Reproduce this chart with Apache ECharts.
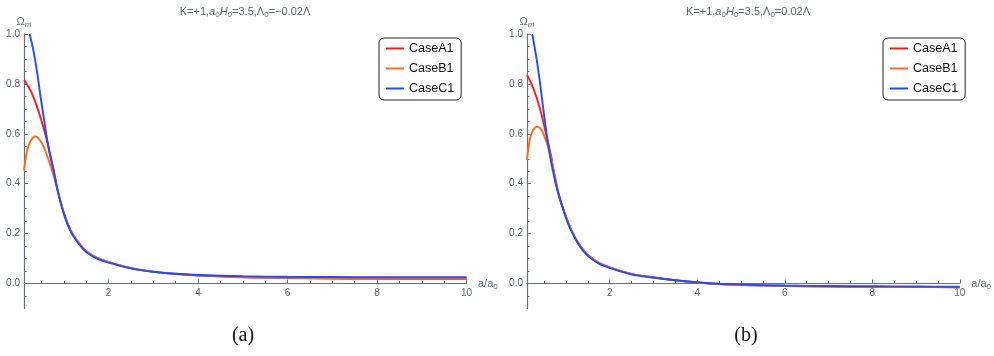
<!DOCTYPE html>
<html>
<head>
<meta charset="utf-8">
<script src="https://cdn.jsdelivr.net/npm/echarts@6/dist/echarts.min.js"></script>
<style>
  html, body { margin: 0; padding: 0; background: #fff; }
  #chart { width: 994px; height: 356px; }
</style>
</head>
<body>
<div id="chart"></div>
<script>
// Omega_m against a/a0, panel (a): Lambda0 = -0.02 Lambda
const aCaseA1X = [0.11, 0.25, 0.40, 0.55, 0.70, 0.772, 0.846, 0.92, 1.0, 1.14, 1.33, 1.52, 1.74, 2.0, 2.5, 3.0, 3.5, 4.0, 5, 6, 7, 8, 9, 10];
const aCaseA1Y = [0.816, 0.776, 0.709, 0.622, 0.515, 0.455, 0.388, 0.333, 0.284, 0.217, 0.164, 0.126, 0.103, 0.086, 0.062, 0.047, 0.038, 0.032, 0.025, 0.022, 0.020, 0.019, 0.018, 0.018];
const aCaseB1X = [0.11, 0.176, 0.25, 0.362, 0.436, 0.548, 0.66, 0.772, 0.846, 0.92, 1.0, 1.14, 1.33, 1.52, 1.74, 2.0, 2.5, 3.0, 3.5, 4.0, 5, 6, 7, 8, 9, 10];
const aCaseB1Y = [0.453, 0.529, 0.569, 0.589, 0.582, 0.549, 0.495, 0.432, 0.384, 0.334, 0.285, 0.218, 0.165, 0.127, 0.104, 0.087, 0.063, 0.048, 0.039, 0.033, 0.026, 0.023, 0.021, 0.020, 0.019, 0.019];
const aCaseC1X = [0.235, 0.325, 0.40, 0.474, 0.548, 0.623, 0.697, 0.772, 0.846, 0.92, 1.0, 1.14, 1.33, 1.52, 1.74, 2.0, 2.5, 3.0, 3.5, 4.0, 5, 6, 7, 8, 9, 10];
const aCaseC1Y = [1.0, 0.93, 0.85, 0.756, 0.669, 0.582, 0.509, 0.452, 0.385, 0.33, 0.28, 0.213, 0.16, 0.123, 0.10, 0.084, 0.061, 0.047, 0.039, 0.034, 0.029, 0.027, 0.026, 0.025, 0.025, 0.025];

// panel (b): Lambda0 = 0.02 Lambda
const bCaseA1X = [0.11, 0.253, 0.402, 0.551, 0.662, 0.70, 0.774, 0.848, 0.967, 1.116, 1.302, 1.488, 1.749, 1.994, 2.49, 2.98, 3.5, 3.98, 4.46, 5, 6, 7, 8, 9, 10];
const bCaseA1Y = [0.836, 0.783, 0.703, 0.595, 0.51, 0.468, 0.40, 0.345, 0.284, 0.217, 0.157, 0.117, 0.083, 0.065, 0.039, 0.025, 0.013, 0.004, -0.002, -0.006, -0.010, -0.012, -0.013, -0.014, -0.015];
const bCaseB1X = [0.11, 0.179, 0.253, 0.342, 0.439, 0.551, 0.662, 0.774, 0.848, 0.967, 1.116, 1.302, 1.488, 1.749, 1.994, 2.49, 2.98, 3.5, 3.98, 4.46, 5, 6, 7, 8, 9, 10];
const bCaseB1Y = [0.495, 0.582, 0.616, 0.629, 0.616, 0.569, 0.502, 0.41, 0.35, 0.284, 0.217, 0.157, 0.117, 0.084, 0.066, 0.039, 0.025, 0.013, 0.004, -0.002, -0.006, -0.010, -0.012, -0.013, -0.014, -0.015];
const bCaseC1X = [0.23, 0.327, 0.402, 0.476, 0.551, 0.625, 0.699, 0.774, 0.818, 0.90, 0.967, 1.116, 1.302, 1.488, 1.749, 1.994, 2.49, 2.98, 3.5, 3.98, 4.46, 5, 6, 7, 8, 9, 10];
const bCaseC1Y = [1.0, 0.903, 0.81, 0.709, 0.609, 0.522, 0.455, 0.395, 0.368, 0.32, 0.28, 0.213, 0.153, 0.113, 0.08, 0.063, 0.037, 0.024, 0.013, 0.005, -0.001, -0.004, -0.008, -0.010, -0.011, -0.012, -0.013];

// axis ticks and labels
const xMajor = [2, 4, 6, 8, 10];
const xMinor = [0.5, 1, 1.5, 2.5, 3, 3.5, 4.5, 5, 5.5, 6.5, 7, 7.5, 8.5, 9, 9.5];
const yMajor = [0, 0.2, 0.4, 0.6, 0.8, 1.0];
const yMinor = [-0.05, 0.05, 0.1, 0.15, 0.25, 0.3, 0.35, 0.45, 0.5, 0.55, 0.65, 0.7, 0.75, 0.85, 0.9, 0.95];
const caseNames = ['CaseA1', 'CaseB1', 'CaseC1'];
const caseColors = ['#ff1a1a', '#ff6a1e', '#1f4cff'];
const panelLabels = ['(a)', '(b)'];
const panelTitles = ['=\u22120.02\u039b', '=0.02\u039b'];

const X_MIN = 0.11, X_MAX = 10, Y_MIN = -0.1, Y_MAX = 1.0;
const axisGray = '#6a7179';
const labelGray = '#5f666e';
const font = 'Liberation Sans, Arial, sans-serif';

const pairs = (xs, ys) => xs.map((x, i) => [x, ys[i]]);
const panels = [
  [pairs(aCaseA1X, aCaseA1Y), pairs(aCaseB1X, aCaseB1Y), pairs(aCaseC1X, aCaseC1Y)],
  [pairs(bCaseA1X, bCaseA1Y), pairs(bCaseB1X, bCaseB1Y), pairs(bCaseC1X, bCaseC1Y)]
];

const gridLefts = [24, 527];
const gridTop = 34;
const gridWidth = 442.5;
const gridHeight = 274.5;
// the horizontal axis sits on y = 0, lifted from the bottom edge of the plot box
const zeroOffset = -(0 - Y_MIN) / (Y_MAX - Y_MIN) * gridHeight;

const grids = [], xAxes = [], yAxes = [], series = [], legends = [], graphics = [];

const subRich = {
  n: { fontSize: 11, color: labelGray, fontFamily: font },
  i: { fontSize: 11, color: labelGray, fontFamily: font, fontStyle: 'italic' },
  s: { fontSize: 8, color: labelGray, fontFamily: font, verticalAlign: 'bottom', padding: [6, 0, 0, 0] }
};

for (let p = 0; p < 2; p++) {
  grids.push({ left: gridLefts[p], top: gridTop, width: gridWidth, height: gridHeight });
  // major x axis
  xAxes.push({
    type: 'value', gridIndex: p, min: X_MIN, max: X_MAX, position: 'bottom', offset: zeroOffset,
    axisLine: { show: true, onZero: false, lineStyle: { color: axisGray, width: 1.2 } },
    axisTick: { show: true, inside: true, length: 4, customValues: xMajor, lineStyle: { color: axisGray } },
    axisLabel: { show: true, customValues: xMajor, margin: 5, fontSize: 10, color: labelGray, fontFamily: font },
    splitLine: { show: false },
    name: 'a/a{s|0}', nameLocation: 'end', nameGap: 7,
    nameTextStyle: { fontSize: 11, color: labelGray, fontFamily: font, align: 'left', verticalAlign: 'middle', rich: { s: subRich.s } }
  });
  // minor x ticks
  xAxes.push({
    type: 'value', gridIndex: p, min: X_MIN, max: X_MAX, position: 'bottom', offset: zeroOffset,
    axisLine: { show: false, onZero: false },
    axisTick: { show: true, inside: true, length: 2.5, customValues: xMinor, lineStyle: { color: axisGray } },
    axisLabel: { show: false },
    splitLine: { show: false }
  });
  // major y axis
  yAxes.push({
    type: 'value', gridIndex: p, min: Y_MIN, max: Y_MAX, position: 'left',
    axisLine: { show: true, onZero: false, lineStyle: { color: axisGray, width: 1.2 } },
    axisTick: { show: true, inside: true, length: 4, customValues: yMajor, lineStyle: { color: axisGray } },
    axisLabel: { show: true, customValues: yMajor, margin: 4, fontSize: 10, color: labelGray, fontFamily: font,
      formatter: v => v.toFixed(1) },
    splitLine: { show: false },
    name: '\u03a9{m|m}', nameLocation: 'end', nameGap: 4,
    nameTextStyle: { fontSize: 11, color: labelGray, fontFamily: font, align: 'center',
      rich: { m: { fontSize: 8, fontStyle: 'italic', color: labelGray, fontFamily: font, verticalAlign: 'bottom', padding: [6, 0, 0, 0] } } }
  });
  // minor y ticks
  yAxes.push({
    type: 'value', gridIndex: p, min: Y_MIN, max: Y_MAX, position: 'left',
    axisLine: { show: false, onZero: false },
    axisTick: { show: true, inside: true, length: 2.5, customValues: yMinor, lineStyle: { color: axisGray } },
    axisLabel: { show: false },
    splitLine: { show: false }
  });

  for (let c = 0; c < 3; c++) {
    series.push({
      type: 'line', name: caseNames[c], xAxisIndex: p * 2, yAxisIndex: p * 2,
      data: panels[p][c], showSymbol: false, symbol: 'none', smooth: 0.35,
      lineStyle: { color: caseColors[c], width: 1.9 }, itemStyle: { color: caseColors[c] },
      clip: true, animation: false, z: 2 + c
    });
  }

  legends.push({
    data: caseNames.map((n, c) => ({ name: n, itemStyle: { color: caseColors[c] } })),
    orient: 'vertical', left: [379, 883][p], top: 38,
    icon: 'path://M0,0L18,0L18,2L0,2Z',
    itemWidth: 18, itemHeight: 14, itemGap: 7, padding: [4, 7, 5, 7],
    borderColor: '#222', borderWidth: 1, borderRadius: 5, backgroundColor: '#fff',
    textStyle: { fontSize: 12.5, color: '#111', fontFamily: font },
    selectedMode: false
  });

  const cx = gridLefts[p] + 221;
  graphics.push({
    type: 'text', x: cx, y: 12,
    style: {
      text: 'K=+1,{i|a}{s|0}{i|H}{s|0}=3.5,\u039b{s|0}' + panelTitles[p],
      align: 'center', verticalAlign: 'middle', fontSize: 11, fill: labelGray, fontFamily: font,
      rich: subRich
    }
  });
  graphics.push({
    type: 'text', x: cx - 2, y: 336,
    style: { text: panelLabels[p], align: 'center', verticalAlign: 'middle', fontSize: 20,
      fill: '#111', fontFamily: 'Liberation Serif, DejaVu Serif, serif' }
  });
}

const chart = echarts.init(document.getElementById('chart'), null, { renderer: 'canvas' });
chart.setOption({
  animation: false,
  backgroundColor: '#ffffff',
  grid: grids,
  xAxis: xAxes,
  yAxis: yAxes,
  legend: legends,
  series: series,
  graphic: graphics
});
</script>
</body>
</html>
